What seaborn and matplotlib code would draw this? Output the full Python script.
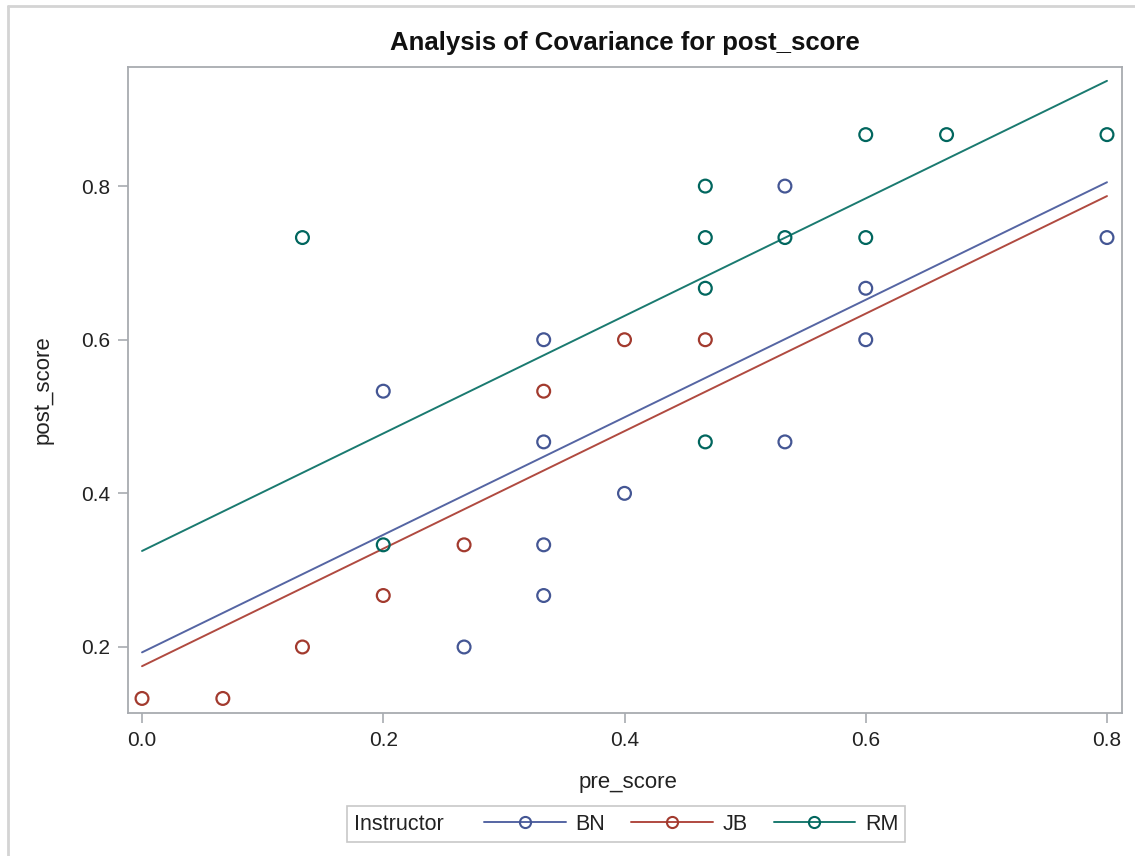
import numpy as np
import pandas as pd
import matplotlib
matplotlib.use("Agg")
import matplotlib.pyplot as plt
from matplotlib.lines import Line2D
from matplotlib.patches import Rectangle
import seaborn as sns

# scores (multiples of 1/15)
bn_pre = [0.200, 0.267, 0.333, 0.333, 0.333, 0.333, 0.400, 0.533, 0.533, 0.600, 0.600, 0.800]
bn_post = [0.533, 0.200, 0.600, 0.467, 0.333, 0.267, 0.400, 0.800, 0.467, 0.667, 0.600, 0.733]
jb_pre = [0.000, 0.067, 0.133, 0.200, 0.267, 0.333, 0.400, 0.467]
jb_post = [0.133, 0.133, 0.200, 0.267, 0.333, 0.533, 0.600, 0.600]
rm_pre = [0.133, 0.200, 0.467, 0.467, 0.467, 0.467, 0.533, 0.600, 0.600, 0.667, 0.800]
rm_post = [0.733, 0.333, 0.800, 0.733, 0.667, 0.467, 0.733, 0.867, 0.733, 0.867, 0.867]

instructors = ["BN", "JB", "RM"]
# ANCOVA fit: common slope, separate intercepts
fit_slope = 0.765
fit_intercepts = [0.193, 0.175, 0.325]
fit_range = [0.0, 0.8]

colors = {"BN": "#445694", "JB": "#A23A2E", "RM": "#01665E"}
line_colors = {"BN": "#5565a3", "JB": "#b04a40", "RM": "#1a7a70"}

pts = pd.DataFrame({
    "pre_score": bn_pre + jb_pre + rm_pre,
    "post_score": bn_post + jb_post + rm_post,
    "Instructor": ["BN"] * len(bn_pre) + ["JB"] * len(jb_pre) + ["RM"] * len(rm_pre),
})
fit_rows = []
for name, b in zip(instructors, fit_intercepts):
    for x in fit_range:
        fit_rows.append({"pre_score": x, "post_score": b + fit_slope * x, "Instructor": name})
fits = pd.DataFrame(fit_rows)

sns.set_style("white")
plt.rcParams["font.family"] = ["Liberation Sans", "DejaVu Sans"]
text_col = "#222222"
axis_col = "#a8abb0"

fig = plt.figure(figsize=(11.35, 8.56), dpi=100)
ax = fig.add_axes([0.1128, 0.167, 0.8757, 0.7547])

sns.lineplot(data=fits, x="pre_score", y="post_score", hue="Instructor",
             palette=line_colors, linewidth=1.4, legend=False, ax=ax, zorder=2)
sns.scatterplot(data=pts, x="pre_score", y="post_score", hue="Instructor",
                palette=colors, marker="o", s=85, facecolors="none",
                linewidth=1.6, legend=False, ax=ax, zorder=3)
# open circles coloured by instructor
coll = ax.collections[-1]
coll.set_edgecolors([colors[i] for i in pts["Instructor"]])
coll.set_facecolors("none")

ax.set_xlim(-0.0116, 0.8124)
ax.set_ylim(0.114, 0.955)
ax.set_xticks([0.0, 0.2, 0.4, 0.6, 0.8])
ax.set_yticks([0.2, 0.4, 0.6, 0.8])
ax.set_xticklabels(["0.0", "0.2", "0.4", "0.6", "0.8"])
ax.set_yticklabels(["0.2", "0.4", "0.6", "0.8"])
ax.tick_params(axis="both", direction="out", length=7, width=1.2, color=axis_col,
               labelsize=15, labelcolor=text_col, pad=6, bottom=True, left=True)
for sp in ax.spines.values():
    sp.set_color(axis_col)
    sp.set_linewidth(1.3)
ax.set_xlabel("")
ax.set_ylabel("")

fig.text(625 / 1135, 0.950, "Analysis of Covariance for post_score", ha="center", va="center",
         fontsize=18.5, fontweight="bold", color="#111111")
fig.text(0.553, 0.086, "pre_score", ha="center", va="center", fontsize=16, color=text_col)
fig.text(0.038, 0.5444, "post_score", ha="center", va="center", rotation=90,
         fontsize=16, color=text_col)

# legend box with inline title
fig.patches.append(Rectangle((347 / 1135, 1 - 842 / 856), (905 - 347) / 1135, 36 / 856,
                             transform=fig.transFigure, fill=False,
                             edgecolor="#c8c8c8", linewidth=1.2))
fig.text(354 / 1135, 1 - 824 / 856, "Instructor", ha="left", va="center",
         fontsize=15.5, color=text_col)
handles = [Line2D([], [], color=line_colors[n], marker="o", markerfacecolor="none",
                  markeredgecolor=colors[n], markersize=8, markeredgewidth=1.5,
                  linewidth=1.4) for n in instructors]
fig.legend(handles, instructors, loc="center left", bbox_to_anchor=(484 / 1135, 1 - 824 / 856),
           ncol=3, frameon=False, fontsize=15.5, handlelength=3.8, handletextpad=0.45,
           columnspacing=1.2, borderpad=0, borderaxespad=0, labelcolor=text_col)

# outer frame of the image
fig.add_artist(Line2D([8 / 1135, 8 / 1135], [0, 1 - 6 / 856], transform=fig.transFigure,
                      color="#d4d4d4", linewidth=2))
fig.add_artist(Line2D([8 / 1135, 1], [1 - 6 / 856, 1 - 6 / 856], transform=fig.transFigure,
                      color="#d4d4d4", linewidth=2))

fig.savefig("out.png", dpi=100)
